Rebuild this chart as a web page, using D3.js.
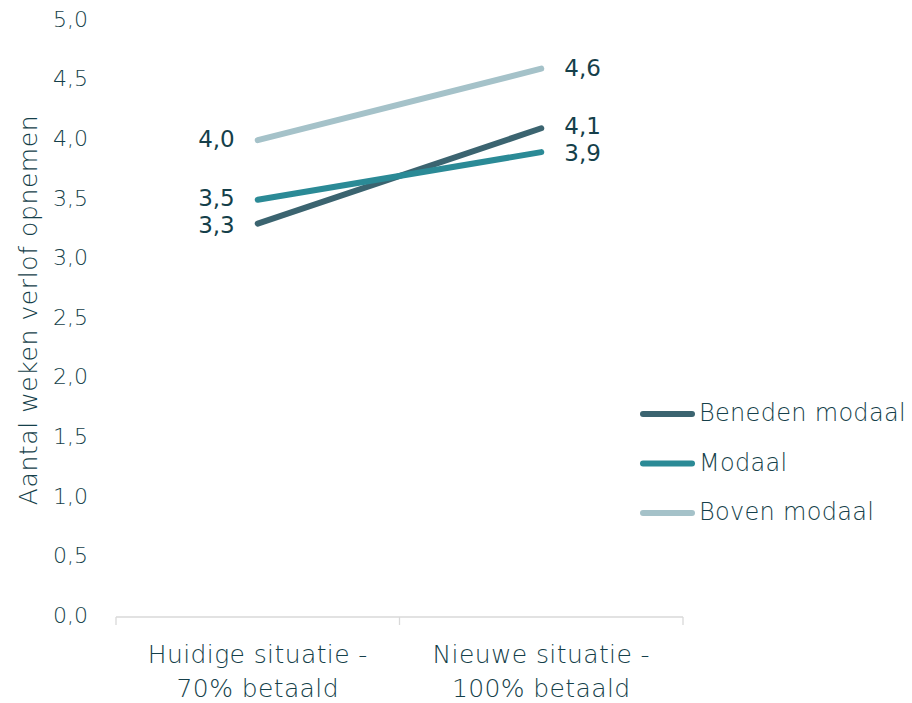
<!DOCTYPE html>
<html>
<head>
<meta charset="utf-8">
<script src="https://cdn.jsdelivr.net/npm/d3@7"></script>
<style>
  body { margin: 0; background: #fff; }
  text { font-family: "DejaVu Sans", sans-serif; fill: #153f4a; }
</style>
</head>
<body>
<script>
// Data
var categories = ["Huidige situatie - 70% betaald", "Nieuwe situatie - 100% betaald"];
var categoryLines = [["Huidige situatie -", "70% betaald"], ["Nieuwe situatie -", "100% betaald"]];
var seriesNames = ["Beneden modaal", "Modaal", "Boven modaal"];
var benedenModaal = [3.3, 4.1];
var modaal = [3.5, 3.9];
var bovenModaal = [4.0, 4.6];
var yTicks = [0, 0.5, 1, 1.5, 2, 2.5, 3, 3.5, 4, 4.5, 5];

var colors = ["#3b6470", "#2b8a96", "#a5c2c9"];
var seriesValues = [benedenModaal, modaal, bovenModaal];

var svgWidth = 912;
var svgHeight = 703;

var svg = d3.select("body")
  .append("svg")
  .attr("width", svgWidth)
  .attr("height", svgHeight);

// scales
var xBand = d3.scaleBand()
  .domain(categories)
  .range([116, 683]);

var yScale = d3.scaleLinear()
  .domain([0, 5])
  .range([617, 21]);

var xCenter = d => xBand(d) + xBand.bandwidth() / 2;
var fmt = v => d3.format(".1f")(v).replace(".", ",");

// y tick labels (no axis line)
svg.append("g")
  .selectAll("text")
  .data(yTicks)
  .enter()
  .append("text")
  .attr("x", 88)
  .attr("y", d => yScale(d) - 2)
  .attr("dy", "0.35em")
  .attr("text-anchor", "end")
  .style("font-size", "22px")
  .style("font-weight", 200)
  .text(fmt);

// y axis title
svg.append("text")
  .attr("transform", "translate(37, 310) rotate(-90)")
  .attr("text-anchor", "middle")
  .style("font-size", "25px")
  .style("letter-spacing", "0.6px")
  .style("font-weight", 200)
  .text("Aantal weken verlof opnemen");

// x axis line with ticks at band edges
var xAxis = svg.append("g");
xAxis.append("line")
  .attr("x1", xBand.range()[0])
  .attr("x2", xBand.range()[1])
  .attr("y1", 617)
  .attr("y2", 617)
  .attr("stroke", "#d9d9d9")
  .attr("stroke-width", 1.3);

var edges = categories.map(c => xBand(c)).concat([xBand.range()[1]]);
xAxis.selectAll(".tick")
  .data(edges)
  .enter()
  .append("line")
  .attr("x1", d => d)
  .attr("x2", d => d)
  .attr("y1", 617)
  .attr("y2", 625)
  .attr("stroke", "#d9d9d9")
  .attr("stroke-width", 1.3);

categories.forEach(function(c, i) {
  var t = svg.append("text")
    .attr("x", xCenter(c))
    .attr("y", 663)
    .attr("text-anchor", "middle")
    .style("font-size", "25px")
    .style("letter-spacing", "0.4px")
    .style("font-weight", 200);
  categoryLines[i].forEach(function(line, j) {
    t.append("tspan")
      .attr("x", xCenter(c))
      .attr("dy", j === 0 ? 0 : 34)
      .text(line);
  });
});

// lines
var line = d3.line()
  .x((d, i) => xCenter(categories[i]))
  .y(d => yScale(d));

var drawOrder = [2, 0, 1];
drawOrder.forEach(function(s) {
  svg.append("path")
    .datum(seriesValues[s])
    .attr("d", line)
    .attr("fill", "none")
    .attr("stroke", colors[s])
    .attr("stroke-width", 6)
    .attr("stroke-linecap", "round");
});

// data labels (small nudge apart where two labels sit close)
var leftNudge = [1, -2, -1];
var rightNudge = [-2, 1, -1];
seriesValues.forEach(function(vals, s) {
  svg.append("text")
    .attr("x", xCenter(categories[0]) - 23)
    .attr("y", yScale(vals[0]) + leftNudge[s])
    .attr("dy", "0.35em")
    .attr("text-anchor", "end")
    .style("font-size", "23px")
    .text(fmt(vals[0]));
  svg.append("text")
    .attr("x", xCenter(categories[1]) + 23)
    .attr("y", yScale(vals[1]) + rightNudge[s])
    .attr("dy", "0.35em")
    .attr("text-anchor", "start")
    .style("font-size", "23px")
    .text(fmt(vals[1]));
});

// legend
var legend = svg.append("g");
seriesNames.forEach(function(name, i) {
  var y = 414 + i * 49.5;
  legend.append("line")
    .attr("x1", 643)
    .attr("x2", 692)
    .attr("y1", y)
    .attr("y2", y)
    .attr("stroke", colors[i])
    .attr("stroke-width", 6)
    .attr("stroke-linecap", "round");
  legend.append("text")
    .attr("x", 699)
    .attr("y", y - 1)
    .attr("dy", "0.35em")
    .style("font-size", "24px")
    .style("letter-spacing", "0.3px")
    .style("font-weight", 200)
    .text(name);
});
</script>
</body>
</html>
